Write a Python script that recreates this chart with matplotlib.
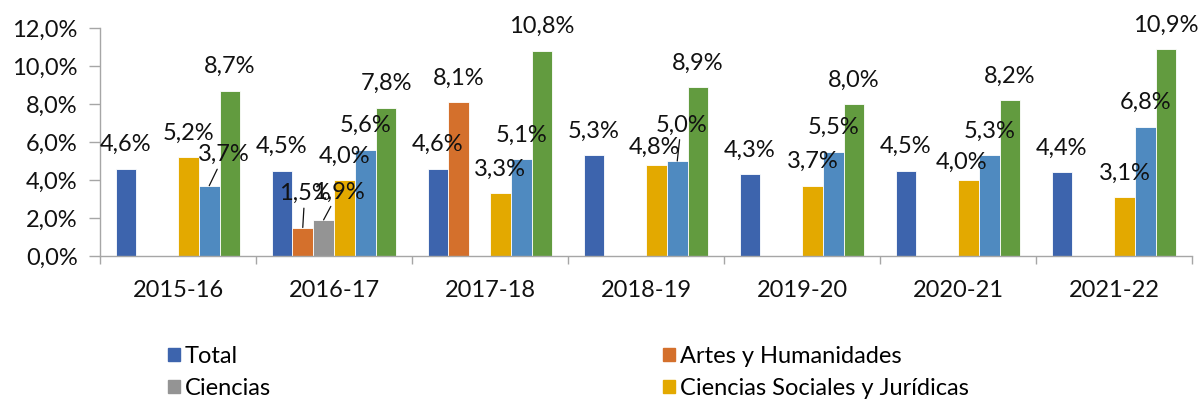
import numpy as np
import matplotlib.pyplot as plt
from matplotlib.patches import Patch

plt.rcParams['font.family'] = ['Lato', 'DejaVu Sans']

# Datos
cursos = ['2015-16', '2016-17', '2017-18', '2018-19', '2019-20', '2020-21', '2021-22']
series = ['Total', 'Artes y Humanidades', 'Ciencias', 'Ciencias Sociales y Jurídicas',
          'Ingeniería y Arquitectura', 'Ciencias de la Salud']
total = [4.6, 4.5, 4.6, 5.3, 4.3, 4.5, 4.4]
artes = [np.nan, 1.5, 8.1, np.nan, np.nan, np.nan, np.nan]
ciencias = [np.nan, 1.9, np.nan, np.nan, np.nan, np.nan, np.nan]
sociales = [5.2, 4.0, 3.3, 4.8, 3.7, 4.0, 3.1]
ingenieria = [3.7, 5.6, 5.1, 5.0, 5.5, 5.3, 6.8]
salud = [8.7, 7.8, 10.8, 8.9, 8.0, 8.2, 10.9]
valores = [total, artes, ciencias, sociales, ingenieria, salud]
colores = ['#3D64AD', '#D4702C', '#949494', '#E3A900', '#4F8AC0', '#629B3F']

# etiquetas movidas a mano (serie, curso): (dx, dy en pixeles, linea guia)
desplazadas = {
    (4, 0): (15, 31, True),
    (1, 1): (2, 34, True),
    (2, 1): (15, 28, True),
    (3, 3): (-2, 17, False),
    (4, 3): (4, 36, True),
    (3, 5): (-7, 18, False),
}

fig = plt.figure(figsize=(12, 4.04), dpi=100)
ax = fig.add_axes([100 / 1200, 148 / 404, 1092 / 1200, 228 / 404])

x = np.arange(len(cursos))
w = 0.1335
for i, (vals, col) in enumerate(zip(valores, colores)):
    pos = x + (i - 2.5) * w
    ax.bar(pos, vals, w, color=col, edgecolor='white', linewidth=0.6)
    for j, v in enumerate(vals):
        if np.isnan(v):
            continue
        dx, dy, guia = desplazadas.get((i, j), (0, 24, False))
        ax.annotate(f'{v:.1f}%'.replace('.', ','), xy=(pos[j], v),
                    xytext=(dx, dy), textcoords='offset pixels',
                    ha='center', va='center', fontsize=17, color='#111111',
                    arrowprops=dict(arrowstyle='-', color='#111111', lw=0.9,
                                    shrinkA=1, shrinkB=0) if guia else None)

ax.set_xlim(-0.5, 6.5)
ax.set_ylim(0, 12)
ax.set_yticks(np.arange(0, 13, 2))
ax.set_yticklabels([f'{t:.1f}%'.replace('.', ',') for t in np.arange(0, 13, 2)])
ax.set_xticks(x)
ax.set_xticklabels(cursos)
ax.set_xticks(np.arange(-0.5, 7, 1), minor=True)
ax.tick_params(axis='x', which='major', length=0, pad=17, labelsize=17, colors='#111111')
ax.tick_params(axis='x', which='minor', length=6, color='#A6A6A6', width=1)
ax.tick_params(axis='y', length=8, color='#A6A6A6', width=1, pad=8, labelsize=17,
               colors='#111111')
ax.tick_params(axis='y', color='#A6A6A6')
for s in ['top', 'right']:
    ax.spines[s].set_visible(False)
for s in ['left', 'bottom']:
    ax.spines[s].set_color('#A6A6A6')
    ax.spines[s].set_linewidth(1)

# leyenda en dos columnas; la tercera fila queda fuera de la imagen como en el original
handles = [Patch(color=c, label=s) for s, c in zip(series, colores)]
kw = dict(loc='upper left', frameon=False, fontsize=17, handlelength=0.5,
          handleheight=0.5, handletextpad=0.2, labelspacing=0.45, borderpad=0,
          borderaxespad=0)
leg1 = fig.legend(handles=[handles[0], handles[2], handles[4]],
                  bbox_to_anchor=(168 / 1200, 1 - 346 / 404), **kw)
leg2 = fig.legend(handles=[handles[1], handles[3], handles[5]],
                  bbox_to_anchor=(663 / 1200, 1 - 346 / 404), **kw)

fig.savefig('out.png', dpi=100)
